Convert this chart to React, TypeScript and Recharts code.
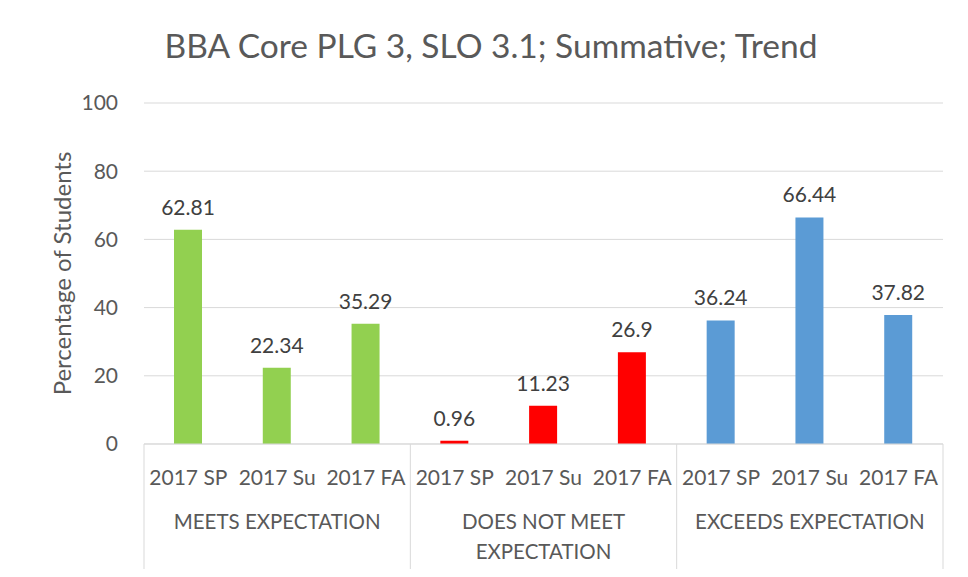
import React from 'react';
import { BarChart, Bar, XAxis, YAxis, CartesianGrid, LabelList, Cell } from 'recharts';

const periods = ['2017 SP', '2017 Su', '2017 FA'];
const groups = ['MEETS EXPECTATION', 'DOES NOT MEET EXPECTATION', 'EXCEEDS EXPECTATION'];
const groupLines = [['MEETS EXPECTATION'], ['DOES NOT MEET', 'EXPECTATION'], ['EXCEEDS EXPECTATION']];
const meets = [62.81, 22.34, 35.29];
const notMeet = [0.96, 11.23, 26.9];
const exceeds = [36.24, 66.44, 37.82];
const groupColors = ['#92d050', '#ff0000', '#5b9bd5'];
const yTicks = [0, 20, 40, 60, 80, 100];

const rows = [meets, notMeet, exceeds].flatMap((vals, g) =>
  vals.map((v, i) => ({ key: `${g}-${i}`, period: periods[i], group: groups[g], g, value: v }))
);

const W = 968;
const H = 577;
const margin = { top: 103, right: 25, bottom: 0, left: 0 };
const yAxisW = 144;
const bandW = (W - yAxisW - margin.right) / rows.length;
const font = 'Lato, "Open Sans", sans-serif';

const PeriodTick = (props: any) => {
  const { x, y, index, payload } = props;
  const axisY = y;
  const row = rows[index];
  const lines = row ? groupLines[row.g] : [];
  return (
    <g>
      {index % 3 === 0 && (
        <line x1={x - bandW / 2} x2={x - bandW / 2} y1={axisY} y2={H} stroke="#d9d9d9" />
      )}
      {index === rows.length - 1 && (
        <line x1={x + bandW / 2} x2={x + bandW / 2} y1={axisY} y2={H} stroke="#d9d9d9" />
      )}
      <text x={x} y={axisY + 41} textAnchor="middle" fill="#595959" fontSize={21} fontFamily={font}>
        {payload.value}
      </text>
      {index % 3 === 1 &&
        lines.map((t, k) => (
          <text key={k} x={x} y={axisY + 85 + (lines.length > 1 ? k * 30 : 0)} textAnchor="middle" fill="#595959" fontSize={20.5} fontFamily={font}>
            {t}
          </text>
        ))}
    </g>
  );
};

export default function App() {
  return (
    <div style={{ position: 'relative', width: W, height: H, margin: -8, background: '#fff', overflow: 'hidden' }}>
      <div style={{ position: 'absolute', left: 4, top: 4, width: W, height: H, border: '1px solid #d9d9d9' }} />
      <div style={{ position: 'absolute', left: 0, top: 25, width: 982, textAlign: 'center', fontFamily: font, fontSize: 33.5, color: '#595959' }}>
        BBA Core PLG 3, SLO 3.1; Summative; Trend
      </div>
      <div style={{ position: 'absolute', left: 0, top: 0 }}>
        <BarChart width={W} height={H} data={rows} margin={margin}>
          <CartesianGrid vertical={false} stroke="#d9d9d9" />
          <XAxis
            dataKey="key"
            interval={0}
            tickLine={false}
            tickSize={0}
            tickMargin={0}
            height={H - 444}
            stroke="#d9d9d9"
            tick={(p: any) => <PeriodTick {...p} payload={{ value: rows[p.index]?.period }} />}
          />
          <YAxis
            width={yAxisW}
            domain={[0, 100]}
            ticks={yTicks}
            axisLine={false}
            tickLine={false}
            tickMargin={20}
            tick={{ fill: '#595959', fontSize: 21, fontFamily: font }}
            label={{ value: 'Percentage of Students', angle: -90, position: 'insideLeft', offset: 62, style: { textAnchor: 'middle', fill: '#595959', fontSize: 24, fontFamily: font } }}
          />
          <Bar dataKey="value" barSize={28} isAnimationActive={false}>
            {rows.map((r) => (
              <Cell key={r.key} fill={groupColors[r.g]} />
            ))}
            <LabelList dataKey="value" position="top" offset={15} fill="#404040" fontSize={21} fontFamily={font} />
          </Bar>
        </BarChart>
      </div>
    </div>
  );
}
